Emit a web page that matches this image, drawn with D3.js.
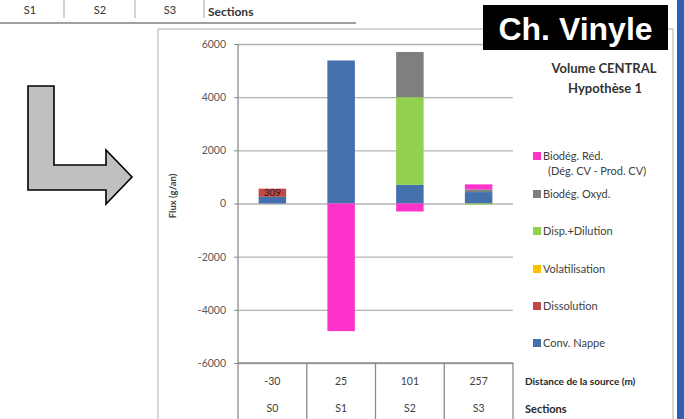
<!DOCTYPE html>
<html>
<head>
<meta charset="utf-8">
<script src="https://cdn.jsdelivr.net/npm/d3@7"></script>
<style>
  html, body { margin: 0; padding: 0; background: #fff; }
  svg { display: block; }
  text { font-family: Lato, "Open Sans", sans-serif; }
</style>
</head>
<body>
<svg id="chart" width="684" height="419"></svg>
<script>
// Sections and their distance from the source (m)
const sections = ["S0", "S1", "S2", "S3"];
const distances = ["-30", "25", "101", "257"];

// Flux per mechanism (g/an), one value per section
const convNappe      = [250, 5380, 700, 430];
const dissolution    = [309, 0, 0, 0];
const volatilisation = [0, 0, 0, 0];
const dispDilution   = [0, 0, 3300, -40];
const biodegOxyd     = [0, 0, 1700, 100];
const biodegRed      = [0, -4800, -300, 190];

const yTicks = [-6000, -4000, -2000, 0, 2000, 4000, 6000];

// Stack order, bottom to top
const seriesNames = ["Conv. Nappe", "Dissolution", "Volatilisation", "Disp.+Dilution", "Biodég. Oxyd.", "Biodég. Réd."];
const seriesValues = [convNappe, dissolution, volatilisation, dispDilution, biodegOxyd, biodegRed];
const seriesColors = ["#4470ad", "#bd4a48", "#ffc000", "#92d050", "#7f7f7f", "#ff33cc"];

const rows = sections.map((s, i) => {
  const r = { section: s };
  seriesNames.forEach((n, k) => r[n] = seriesValues[k][i]);
  return r;
});

const svg = d3.select("#chart");
const stroke = "#a6a6a6";

// --- top strip: section header row ---
const topX = [30, 100, 170];
["S1", "S2", "S3"].forEach((t, i) => {
  svg.append("text").attr("x", topX[i]).attr("y", 14).attr("text-anchor", "middle")
    .attr("font-size", 11).attr("fill", "#333").text(t);
});
[64, 135, 204].forEach(x => {
  svg.append("line").attr("x1", x).attr("x2", x).attr("y1", 0).attr("y2", 18)
    .attr("stroke", stroke).attr("stroke-width", 1);
});
svg.append("text").attr("x", 208).attr("y", 16).attr("font-size", 12)
  .attr("font-weight", "bold").attr("fill", "#333").text("Sections");
svg.append("line").attr("x1", 0).attr("x2", 356).attr("y1", 23).attr("y2", 23)
  .attr("stroke", "#a0a0a0").attr("stroke-width", 2);

// --- L-shaped arrow ---
svg.append("path")
  .attr("d", "M28,86 L54,86 L54,165 L106,165 L106,150 L132,177 L106,204 L106,190 L28,190 Z")
  .attr("fill", "#c0c0c0").attr("stroke", "#000").attr("stroke-width", 1.6)
  .attr("stroke-linejoin", "miter");

// --- chart frame ---
svg.append("line").attr("x1", 158).attr("x2", 158).attr("y1", 29).attr("y2", 419)
  .attr("stroke", "#c8c8c8").attr("stroke-width", 1.5);
svg.append("line").attr("x1", 158).attr("x2", 673).attr("y1", 29).attr("y2", 29)
  .attr("stroke", "#c8c8c8").attr("stroke-width", 1.5);
svg.append("line").attr("x1", 673).attr("x2", 673).attr("y1", 29).attr("y2", 419)
  .attr("stroke", "#c8c8c8").attr("stroke-width", 1.5);
svg.append("rect").attr("x", 677).attr("y", 0).attr("width", 7).attr("height", 419)
  .attr("fill", "#2f5fb0");

// --- scales ---
const plotLeft = 238, plotRight = 513;
const x = d3.scaleBand().domain(sections).range([plotLeft, plotRight]).paddingInner(0.6).paddingOuter(0.3);
const y = d3.scaleLinear().domain([-6000, 6000]).range([363, 44]);

// gridlines
svg.append("g").attr("transform", `translate(${plotLeft},0)`)
  .call(d3.axisLeft(y).tickValues(yTicks).tickSize(-(plotRight - plotLeft)).tickFormat(""))
  .call(g => g.select(".domain").remove())
  .call(g => g.selectAll("line").attr("stroke", "#b4b4b4").attr("stroke-width", 1.3));

// tick marks and labels (plain hyphen for negatives)
svg.append("g").attr("transform", `translate(${plotLeft},0)`)
  .call(d3.axisLeft(y).tickValues(yTicks).tickSize(4).tickPadding(8).tickFormat(d => String(d)))
  .call(g => g.select(".domain").remove())
  .call(g => g.selectAll("line").attr("stroke", "#8c8c8c"))
  .call(g => g.selectAll("text").attr("font-size", 10.5).attr("fill", "#595959")
    .style("font-family", "Lato, 'Open Sans', sans-serif"));

// axis title
svg.append("text").attr("transform", "translate(176,196) rotate(-90)")
  .attr("text-anchor", "middle").attr("font-size", 9.5).attr("font-weight", "bold")
  .attr("fill", "#404040").text("Flux (g/an)");

// --- stacked bars ---
const stack = d3.stack().keys(seriesNames).offset(d3.stackOffsetDiverging);
const stacked = stack(rows);

svg.append("g").selectAll("g").data(stacked).join("g")
  .attr("fill", (d, i) => seriesColors[i])
  .selectAll("rect").data(d => d).join("rect")
  .attr("x", d => x(d.data.section))
  .attr("width", x.bandwidth())
  .attr("y", d => y(Math.max(d[0], d[1])))
  .attr("height", d => Math.abs(y(d[0]) - y(d[1])));

// value label on the dissolution segment
const dissLayer = stacked[seriesNames.indexOf("Dissolution")];
dissLayer.forEach((d, i) => {
  if (dissolution[i] > 0) {
    svg.append("text")
      .attr("x", x(d.data.section) + x.bandwidth() / 2)
      .attr("y", (y(d[0]) + y(d[1])) / 2 + 3.5)
      .attr("text-anchor", "middle").attr("font-size", 10)
      .attr("fill", "#3a1414").text(dissolution[i]);
  }
});

// axis line down through the bottom table
svg.append("line").attr("x1", plotLeft).attr("x2", plotLeft).attr("y1", 44).attr("y2", 419)
  .attr("stroke", "#8c8c8c").attr("stroke-width", 1.3);

// --- bottom data table ---
svg.append("line").attr("x1", plotLeft).attr("x2", plotRight).attr("y1", 363).attr("y2", 363)
  .attr("stroke", "#8c8c8c").attr("stroke-width", 1.3);
sections.forEach((s, i) => {
  const xr = plotLeft + (i + 1) * (plotRight - plotLeft) / sections.length;
  svg.append("line").attr("x1", xr).attr("x2", xr).attr("y1", 363).attr("y2", 419)
    .attr("stroke", "#8c8c8c").attr("stroke-width", 1.3);
  const cx = x(s) + x.bandwidth() / 2;
  svg.append("text").attr("x", cx).attr("y", 385).attr("text-anchor", "middle")
    .attr("font-size", 10.5).attr("fill", "#404040").text(distances[i]);
  svg.append("text").attr("x", cx).attr("y", 412).attr("text-anchor", "middle")
    .attr("font-size", 10.5).attr("fill", "#404040").text(s);
});
svg.append("text").attr("x", 525).attr("y", 385).attr("font-size", 10)
  .attr("font-weight", "bold").attr("fill", "#262626").text("Distance de la source (m)");
svg.append("text").attr("x", 525).attr("y", 413).attr("font-size", 11)
  .attr("font-weight", "bold").attr("fill", "#262626").text("Sections");

// --- legend (top entry = last stacked series) ---
const legendY = [156, 194, 231, 269, 306, 343];
const legendOrder = seriesNames.slice().reverse();
legendOrder.forEach((n, i) => {
  const color = seriesColors[seriesNames.indexOf(n)];
  svg.append("rect").attr("x", 533).attr("y", legendY[i] - 4).attr("width", 8).attr("height", 8)
    .attr("fill", color);
  svg.append("text").attr("x", 543).attr("y", legendY[i] + 4).attr("font-size", 11)
    .attr("fill", "#404040").text(n);
});
svg.append("text").attr("x", 548).attr("y", 175).attr("font-size", 11)
  .attr("fill", "#404040").text("(Dég. CV - Prod. CV)");

// --- chart title ---
svg.append("text").attr("x", 604).attr("y", 73).attr("text-anchor", "middle")
  .attr("font-size", 13).attr("font-weight", "bold").attr("fill", "#333").text("Volume CENTRAL");
svg.append("text").attr("x", 605).attr("y", 93).attr("text-anchor", "middle")
  .attr("font-size", 13).attr("font-weight", "bold").attr("fill", "#333").text("Hypothèse 1");

// --- badge ---
svg.append("rect").attr("x", 483).attr("y", 5).attr("width", 185).attr("height", 45).attr("fill", "#000");
svg.append("text").attr("x", 575.5).attr("y", 40).attr("text-anchor", "middle")
  .style("font-family", "'Liberation Sans', Arial, sans-serif")
  .attr("font-size", 32).attr("font-weight", "bold").attr("fill", "#fff").text("Ch. Vinyle");
</script>
</body>
</html>
